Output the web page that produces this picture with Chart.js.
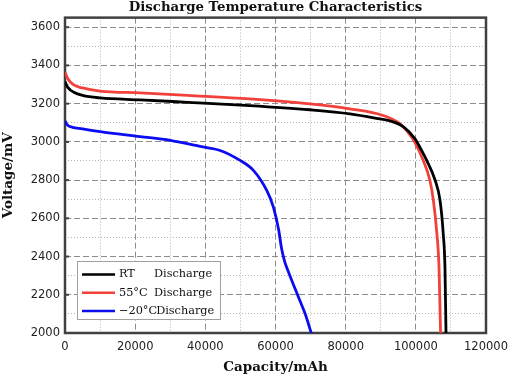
<!DOCTYPE html>
<html><head><meta charset="utf-8">
<script src="https://cdn.jsdelivr.net/npm/chart.js@4/dist/chart.umd.min.js"></script>
<style>html,body{margin:0;padding:0;background:#fff;}canvas{display:block;}</style>
</head><body>
<canvas id="c" width="528" height="376"></canvas>
<script>
const titleText = 'Discharge Temperature Characteristics';
const xTitle = 'Capacity/mAh';
const yTitle = 'Voltage/mV';
const seriesLabels = ['RT    Discharge', '55°C  Discharge', '\u221220°CDischarge'];
const seriesColors = ['#000000', '#f2403a', '#0c0cf0'];

const rtCapacity = [0, 800, 2500, 5000, 10000, 21400, 35000, 52700, 69800, 81200, 89800, 92600, 96400, 99800, 101500, 103100, 105500, 106900, 107800, 108300, 108600];
const rtVoltage  = [3315, 3285, 3260, 3243, 3230, 3220, 3207, 3190, 3168, 3147, 3120, 3110, 3080, 3015, 2960, 2903, 2799, 2694, 2522, 2346, 2000];

const hotCapacity = [0, 800, 2500, 5000, 10000, 21400, 35000, 52700, 69800, 81200, 90700, 95500, 99000, 102100, 104000, 105000, 106000, 106600, 107050];
const hotVoltage  = [3365, 3330, 3298, 3282, 3266, 3256, 3243, 3225, 3199, 3173, 3138, 3094, 3020, 2903, 2799, 2694, 2520, 2346, 2000];

const coldCapacity = [0, 600, 1400, 5000, 10000, 21400, 30000, 38500, 44200, 49900, 53700, 57500, 59400, 60900, 61700, 62600, 64000, 66500, 68400, 70200];
const coldVoltage  = [3110, 3090, 3080, 3068, 3054, 3028, 3008, 2976, 2955, 2903, 2851, 2746, 2659, 2540, 2445, 2375, 2305, 2190, 2103, 2000];

const xTickLabels = [0, 20000, 40000, 60000, 80000, 100000, 120000];
const yTickLabels = [2000, 2200, 2400, 2600, 2800, 3000, 3200, 3400, 3600];
const yGridStep = 100;

function pts(xs, ys) { return xs.map((x, i) => ({x: x, y: ys[i]})); }
function isMajorX(v) { return xTickLabels.includes(Math.round(v)); }
function isMajorY(v) { return yTickLabels.includes(Math.round(v)); }

const tickFont = {family: '"DejaVu Sans", sans-serif', size: 11.5};
const serifBold = {family: '"DejaVu Serif", serif', weight: 'bold'};

const framePlugin = {
  id: 'frame',
  beforeDatasetsDraw(chart) {
    const {ctx, chartArea: a} = chart;
    const ys = chart.scales.y;
    ctx.save();
    ctx.strokeStyle = '#404040';
    ctx.lineWidth = 2;
    yTickLabels.forEach(v => {
      const p = ys.getPixelForValue(v);
      ctx.beginPath(); ctx.moveTo(a.left, p); ctx.lineTo(a.left + 4, p); ctx.stroke();
    });
    ctx.lineWidth = 2.5;
    ctx.strokeRect(a.left, a.top, a.right - a.left, a.bottom - a.top);
    ctx.restore();
  }
};

const legendPlugin = {
  id: 'boxLegend',
  afterDraw(chart) {
    const {ctx, chartArea: a} = chart;
    const bx = a.left + 12, bw = 143, bh = 58;
    const by = a.bottom - 14 - bh;
    ctx.save();
    ctx.fillStyle = '#ffffff';
    ctx.fillRect(bx, by, bw, bh);
    ctx.strokeStyle = '#a0a0a0';
    ctx.lineWidth = 1;
    ctx.strokeRect(bx + 0.5, by + 0.5, bw, bh);
    ctx.font = '11.3px "DejaVu Serif", serif';
    ctx.textBaseline = 'middle';
    chart.data.datasets.forEach((ds, i) => {
      const cy = by + 13.5 + i * 18.3;
      ctx.strokeStyle = ds.borderColor;
      ctx.lineWidth = 2.5;
      ctx.beginPath(); ctx.moveTo(bx + 5, cy); ctx.lineTo(bx + 38, cy); ctx.stroke();
      ctx.fillStyle = '#111';
      const parts = ds.label.split('Discharge');
      const pre = parts[0].trimEnd();
      const tx = bx + 42;
      ctx.fillText(pre, tx, cy);
      const dx = Math.max(tx + 35, tx + ctx.measureText(pre).width - 1);
      ctx.fillText('Discharge', dx, cy);
    });
    ctx.restore();
  }
};

const majorDash = [6, 3];
const minorDash = [1, 2];

new Chart(document.getElementById('c'), {
  type: 'line',
  data: {
    datasets: [
      {label: seriesLabels[0], data: pts(rtCapacity, rtVoltage), borderColor: seriesColors[0]},
      {label: seriesLabels[1], data: pts(hotCapacity, hotVoltage), borderColor: seriesColors[1]},
      {label: seriesLabels[2], data: pts(coldCapacity, coldVoltage), borderColor: seriesColors[2]}
    ]
  },
  options: {
    responsive: false,
    animation: false,
    devicePixelRatio: 1,
    layout: {padding: {left: 0, right: 42, top: 0, bottom: 0}},
    elements: {
      line: {borderWidth: 2.8, cubicInterpolationMode: 'monotone', fill: false},
      point: {radius: 0, hoverRadius: 0}
    },
    plugins: {
      legend: {display: false},
      tooltip: {enabled: false},
      title: {
        display: true, text: titleText, color: '#111', fullSize: false,
        font: Object.assign({size: 13.3, lineHeight: 1.1}, serifBold),
        padding: {top: 0, bottom: 3}
      }
    },
    scales: {
      x: {
        type: 'linear', min: 0, max: 120000,
        afterFit(s) { s.height = 43; },
        ticks: {
          stepSize: 10000, autoSkip: false, maxRotation: 0, padding: 7,
          color: '#222', font: tickFont,
          callback: v => isMajorX(v) ? String(Math.round(v)) : ''
        },
        grid: {
          drawTicks: false,
          color: c => (c.tick && isMajorX(c.tick.value)) ? '#8c8c8c' : '#b4b4b4',
          lineWidth: 1
        },
        border: {
          display: false,
          dash: c => (c.tick && isMajorX(c.tick.value)) ? majorDash : minorDash
        },
        title: {
          display: true, text: xTitle, color: '#111',
          font: Object.assign({size: 13.5, lineHeight: 1.2}, serifBold),
          padding: {top: 0, bottom: 0}
        }
      },
      y: {
        type: 'linear', min: 2000, max: 3650,
        afterFit(s) { s.width = 65; },
        afterBuildTicks(s) {
          const t = [];
          for (let v = yTickLabels[0]; v <= yTickLabels[yTickLabels.length - 1]; v += yGridStep) t.push({value: v});
          s.ticks = t;
        },
        ticks: {
          stepSize: 100, autoSkip: false, padding: 5,
          color: '#222', font: tickFont,
          callback: v => isMajorY(v) ? String(Math.round(v)) : ''
        },
        grid: {
          drawTicks: false,
          color: c => (c.tick && isMajorY(c.tick.value)) ? '#8c8c8c' : '#b4b4b4',
          lineWidth: 1
        },
        border: {
          display: false,
          dash: c => (c.tick && isMajorY(c.tick.value)) ? majorDash : minorDash
        },
        title: {
          display: true, text: yTitle, color: '#111',
          font: Object.assign({size: 13.5, lineHeight: 1.2}, serifBold),
          padding: {top: 0, bottom: 0}
        }
      }
    }
  },
  plugins: [framePlugin, legendPlugin]
});
</script>
</body></html>
